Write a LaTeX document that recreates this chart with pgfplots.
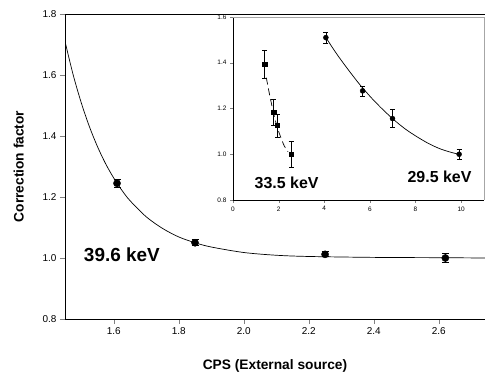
\documentclass[border=0pt]{standalone}
\usepackage{pgfplots}
\pgfplotsset{compat=1.18}
\usepackage{fontspec}
\setmainfont{Liberation Sans}
\begin{document}
\begin{tikzpicture}[x=1bp,y=1bp]
\begin{axis}[
  name=main, at={(0bp,0bp)}, anchor=south west,
  scale only axis, width=420bp, height=305bp,
  xmin=1.45, xmax=2.742, ymin=0.8, ymax=1.8,
  xtick={1.6,1.8,2.0,2.2,2.4,2.6},
  ytick={0.8,1.0,1.2,1.4,1.6,1.8},
  tick align=outside, tick pos=left, major tick length=5bp,
  /pgf/number format/assume math mode=true,
  /pgf/number format/.cd, fixed, fixed zerofill, precision=1, /pgfplots/.cd,
  tick label style={font=\fontsize{10}{12}\selectfont},
  xlabel={CPS (External source)}, ylabel={Correction factor},
  label style={font=\fontsize{13.8}{16}\selectfont\bfseries},
  xlabel style={yshift=-18bp},
  ylabel style={yshift=12bp},
  axis line style={black, line width=0.8bp},
]
\addplot[black, line width=0.7bp, smooth, no markers] coordinates {
  (1.45,1.710) (1.475,1.601) (1.50,1.509) (1.525,1.431) (1.55,1.365)
  (1.575,1.309) (1.60,1.262) (1.625,1.222) (1.65,1.188) (1.70,1.135)
  (1.75,1.097) (1.80,1.069) (1.85,1.050) (1.90,1.036) (2.00,1.018)
  (2.10,1.009) (2.20,1.005) (2.40,1.002) (2.60,1.001) (2.742,1.000)
};
\addplot[black, only marks, mark=*, mark size=3.6bp,
  error bars/.cd, y dir=both, y explicit,
  error bar style={line width=0.8bp},
  error mark options={rotate=90, mark size=3.5bp, line width=0.8bp}]
  table[x=x, y=y, y error=e] {
  x     y      e
  1.61  1.245  0.012
  1.85  1.050  0.010
  2.25  1.012  0.008
  2.62  1.000  0.015
};
\node[font=\fontsize{19}{22}\selectfont\bfseries] at (axis cs:1.625,1.01) {39.6 keV};
\end{axis}

\begin{axis}[
  name=inset, at={(168bp,119bp)}, anchor=south west,
  scale only axis, width=251bp, height=183bp,
  xmin=0, xmax=11, ymin=0.8, ymax=1.6,
  xtick={0,2,4,6,8,10},
  ytick={0.8,1.0,1.2,1.4,1.6},
  axis lines*=left,
  tick align=outside, major tick length=3bp,
  /pgf/number format/assume math mode=true,
  y tick label style={/pgf/number format/.cd, fixed, fixed zerofill, precision=1},
  tick label style={font=\fontsize{6.5}{8}\selectfont},
  axis line style={black, line width=0.8bp},
  axis background/.style={fill=white},
  clip=false,
]
\draw[gray!70, line width=1bp] (rel axis cs:0,1) -- (rel axis cs:1,1) -- (rel axis cs:1,0);
\addplot[black, line width=0.7bp, dash pattern=on 7bp off 4bp, smooth, no markers] coordinates {
  (1.46,1.335) (1.60,1.262) (1.78,1.178) (1.93,1.121) (2.10,1.072) (2.25,1.036) (2.41,1.011)
};
\addplot[black, line width=0.7bp, smooth, no markers] coordinates {
  (4.07,1.510) (4.57,1.435) (5.07,1.367) (5.57,1.303) (6.07,1.246)
  (6.57,1.195) (7.07,1.149) (7.57,1.109) (8.07,1.076) (8.57,1.047)
  (9.07,1.024) (9.57,1.008) (9.91,1.000)
};
\addplot[black, only marks, mark=square*, mark size=2.2bp,
  error bars/.cd, y dir=both, y explicit,
  error bar style={line width=0.7bp},
  error mark options={rotate=90, mark size=2.5bp, line width=0.7bp}]
  table[x=x, y=y, y error=e] {
  x     y      e
  1.39  1.393  0.060
  1.78  1.185  0.057
  1.93  1.126  0.050
  2.55  1.000  0.058
};
\addplot[black, only marks, mark=*, mark size=2.5bp,
  error bars/.cd, y dir=both, y explicit,
  error bar style={line width=0.7bp},
  error mark options={rotate=90, mark size=2.5bp, line width=0.7bp}]
  table[x=x, y=y, y error=e] {
  x     y      e
  4.07  1.510  0.025
  5.68  1.277  0.022
  6.99  1.156  0.040
  9.91  1.000  0.022
};
\node[font=\fontsize{16}{19}\selectfont\bfseries] at (axis cs:2.35,0.874) {33.5 keV};
\node[font=\fontsize{16}{19}\selectfont\bfseries] at (axis cs:9.05,0.900) {29.5 keV};
\end{axis}
\pgfresetboundingbox
\path (-65bp,-55bp) rectangle (420bp,319bp);
\end{tikzpicture}
\end{document}
